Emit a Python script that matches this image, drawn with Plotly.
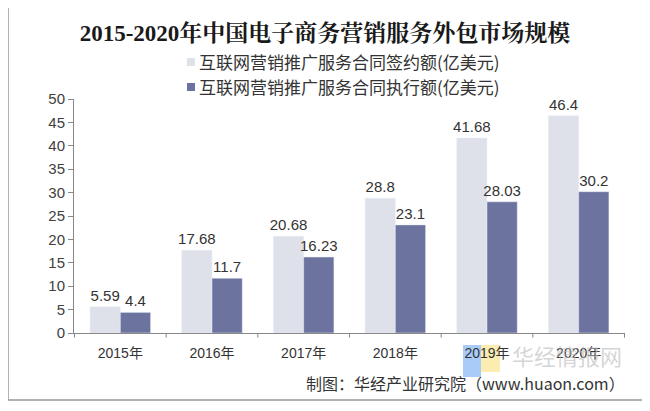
import plotly.graph_objects as go

years = ["2015年", "2016年", "2017年", "2018年", "2019年", "2020年"]
signed = [5.59, 17.68, 20.68, 28.8, 41.68, 46.4]
executed = [4.4, 11.7, 16.23, 23.1, 28.03, 30.2]
name_signed = "互联网营销推广服务合同签约额(亿美元)"
name_exec = "互联网营销推广服务合同执行额(亿美元)"
y_ticks = [0, 5, 10, 15, 20, 25, 30, 35, 40, 45, 50]
col_signed = "#dfe1ea"
col_exec = "#6c739f"

OFF = 8  # page body margin
W, H = 650, 411
L, R, T, B = 74 - OFF, 650 - (625 - OFF), 99 - OFF, 411 - (333 - OFF)
pw, ph = W - L - R, H - T - B


def px(x):  # screen x -> paper
    return (x - OFF - L) / pw


def py(y):  # screen y -> paper
    return (H - B - (y - OFF)) / ph


font_main = "Arial, Liberation Sans, Noto Sans CJK SC, sans-serif"
cjk = "Noto Sans CJK SC, sans-serif"

fig = go.Figure()
fig.add_trace(go.Bar(x=years, y=signed, name=name_signed, marker_color=col_signed,
                     text=[f"{v:g}" for v in signed], textposition="outside",
                     constraintext="none",
                     textfont=dict(size=15, color="#333333"), cliponaxis=False))
fig.add_trace(go.Bar(x=years, y=executed, name=name_exec, marker_color=col_exec,
                     text=[f"{v:g}" for v in executed], textposition="outside",
                     constraintext="none",
                     textfont=dict(size=15, color="#333333"), cliponaxis=False))

fig.update_layout(
    width=W, height=H,
    margin=dict(l=L, r=R, t=T, b=B, autoexpand=False),
    paper_bgcolor="white", plot_bgcolor="white",
    barmode="group", bargap=0.34, bargroupgap=0,
    font=dict(family=font_main, size=14, color="#404040"),
    title=dict(text="<b>2015-2020年中国电子商务营销服务外包市场规模</b>",
               x=(325 - OFF) / W, xanchor="center", y=1 - (33 - OFF) / H, yanchor="middle",
               font=dict(family="Liberation Serif, Noto Serif CJK SC, Noto Sans CJK SC, serif",
                         size=23, color="#1a1a1a")),
    showlegend=False,
)
fig.update_yaxes(range=[0, 50], tickvals=y_ticks, showgrid=False, showline=True,
                 linecolor="#888888", linewidth=1, ticks="outside", ticklen=5,
                 tickcolor="#888888", tickfont=dict(size=15, color="#404040"), zeroline=False)
fig.update_xaxes(showline=True, linecolor="#888888", linewidth=1, ticks="",
                 ticklabelstandoff=7,
                 tickfont=dict(size=14, color="#333333"))
for i in range(len(years) + 1):
    fig.add_shape(type="line", xref="x", yref="paper", x0=i - 0.5, x1=i - 0.5,
                  y0=0, y1=-0.02, line=dict(color="#888888", width=1))

# legend (manual, small square markers)
for name, col, yc in [(name_signed, col_signed, 62), (name_exec, col_exec, 87)]:
    fig.add_shape(type="rect", xref="paper", yref="paper",
                  x0=px(187), x1=px(195), y0=py(yc + 4), y1=py(yc - 4),
                  fillcolor=col, line=dict(width=0))
    fig.add_annotation(text=name, xref="paper", yref="paper", x=px(197), y=py(yc),
                       xanchor="left", yanchor="middle", showarrow=False,
                       font=dict(size=17, color="#333333", family=cjk))

# watermark logo
fig.add_shape(type="rect", xref="paper", yref="paper", x0=px(463), x1=px(481),
              y0=py(377), y1=py(345), fillcolor="rgba(140,185,245,0.75)",
              line=dict(width=0), layer="below")
fig.add_shape(type="rect", xref="paper", yref="paper", x0=px(481), x1=px(500),
              y0=py(372), y1=py(345), fillcolor="rgba(250,230,150,0.75)",
              line=dict(width=0), layer="below")
fig.add_annotation(text="华经情报网", xref="paper", yref="paper",
                   x=px(624), y=py(355), xanchor="right", yanchor="middle", showarrow=False,
                   font=dict(size=22, color="rgba(185,185,185,0.6)", family=cjk))

fig.add_annotation(text="制图：华经产业研究院（www.huaon.com）", xref="paper", yref="paper",
                   x=px(627), y=py(383), xanchor="right", yanchor="middle", showarrow=False,
                   font=dict(size=16, color="#333333", family=cjk))
# outer border
fig.add_shape(type="rect", xref="paper", yref="paper",
              x0=px(8), x1=px(643), y0=py(400), y1=py(6),
              line=dict(color="#999999", width=1.5))

fig.write_html("out.html")
